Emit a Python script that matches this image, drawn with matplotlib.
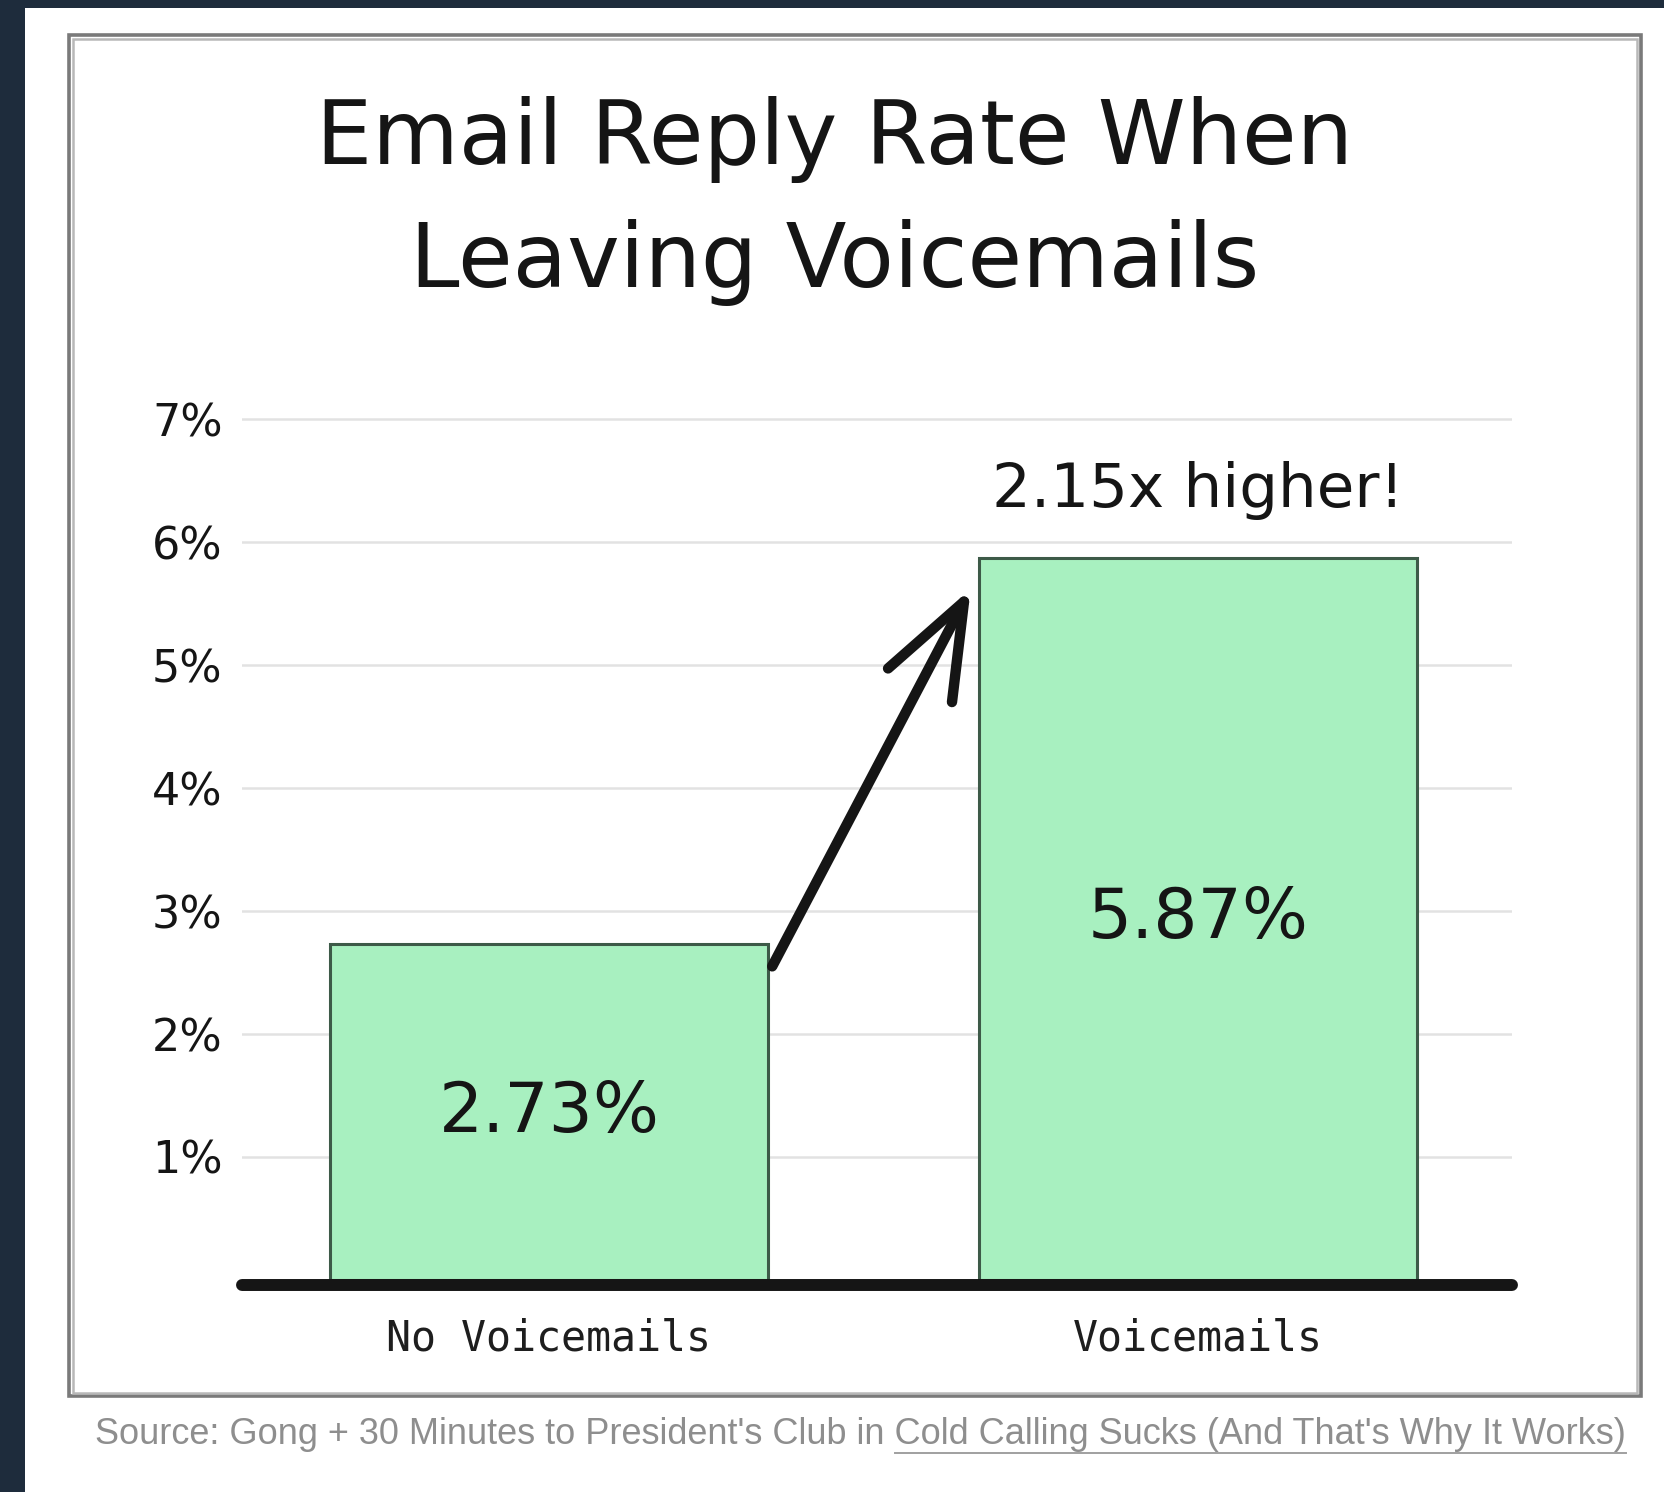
import matplotlib
matplotlib.use("Agg")
import matplotlib.pyplot as plt
from matplotlib.patches import Rectangle

# ---- data ------------------------------------------------------------------
categories = ["No Voicemails", "Voicemails"]
reply_rate = [2.73, 5.87]
bar_labels = ["2.73%", "5.87%"]
yticks = [1, 2, 3, 4, 5, 6, 7]
ytick_labels = ["1%", "2%", "3%", "4%", "5%", "6%", "7%"]
callout = "2.15x higher!"
title_lines = ["Email Reply Rate When", "Leaving Voicemails"]
source_plain = "Source: Gong + 30 Minutes to President's Club in "
source_link = "Cold Calling Sucks (And That's Why It Works)"

# ---- style -----------------------------------------------------------------
W, H, DPI = 1664, 1492, 100
NAVY = "#1e2c3c"
BAR = "#a8f0c0"; BAR_EDGE = "#3d5a48"
INK = "#151515"; GRID = "#e2e2e2"; SRC = "#8e8e8e"
HAND = "DejaVu Sans"
MONO = "DejaVu Sans Mono"

fig = plt.figure(figsize=(W / DPI, H / DPI), dpi=DPI)
fig.patch.set_facecolor("white")

# page overlay in pixel coords (y grows downward)
bg = fig.add_axes([0, 0, 1, 1])
bg.set_xlim(0, W); bg.set_ylim(H, 0); bg.axis("off")
bg.add_patch(Rectangle((0, 0), 25, H, color=NAVY, lw=0))
bg.add_patch(Rectangle((0, 0), W, 8, color=NAVY, lw=0))
# framed card: dark outer line + lighter inner shade
bg.add_patch(Rectangle((69, 35), 1571.5, 1361, fill=False, ec="#7a7a7a", lw=2.6))
bg.add_patch(Rectangle((72.5, 38.5), 1564.5, 1354, fill=False, ec="#b8b8b8", lw=1.8))

for txt, yb in zip(title_lines, [164, 287]):
    bg.text(835, yb, txt, ha="center", va="baseline", fontsize=64,
            family=HAND, color=INK)

# ---- chart axes ------------------------------------------------------------
PX_PER_PCT = 123.0
Y0 = 1280; YMAX = 7.3
X_LEFT, X_RIGHT = 242, 1512
ax = fig.add_axes([X_LEFT / W, 1 - Y0 / H, (X_RIGHT - X_LEFT) / W,
                   YMAX * PX_PER_PCT / H])
ax.patch.set_alpha(0)
ax.set_xlim(-0.473, 1.484)
ax.set_ylim(0, YMAX)
for s in ax.spines.values():
    s.set_visible(False)

xpos = list(range(len(categories)))
bw = 0.676
ax.bar(xpos, reply_rate, width=bw, color=BAR, edgecolor=BAR_EDGE, lw=2.2, zorder=3)

ax.set_yticks(yticks)
ax.set_yticklabels(ytick_labels, family=HAND, fontsize=32, color=INK)
ax.set_xticks(xpos)
ax.set_xticklabels(categories, family=MONO, fontsize=30, color="#1e1e1e")
ax.tick_params(axis="y", length=0, pad=14)
ax.tick_params(axis="x", length=0, pad=27)
ax.yaxis.grid(True, color=GRID, lw=1.8, zorder=0)
ax.set_axisbelow(True)

# thick hand-drawn baseline
ax.plot([0, 1], [-0.04, -0.04], transform=ax.get_yaxis_transform(),
        color=INK, lw=8.6, solid_capstyle="round", clip_on=False, zorder=4)

for x, v, lab in zip(xpos, reply_rate, bar_labels):
    ax.text(x, v / 2, lab, ha="center", va="center", fontsize=50,
            family=HAND, color=INK, zorder=5)

ax.text(xpos[1], reply_rate[1] + 0.55, callout, ha="center", va="center",
        fontsize=44, family=HAND, color=INK, zorder=5)

ax.annotate("", xy=(xpos[1] - bw / 2 - 0.012, reply_rate[1] - 0.25),
            xytext=(xpos[0] + bw / 2 + 0.006, reply_rate[0] - 0.18),
            arrowprops=dict(arrowstyle="->, head_length=0.68, head_width=0.26",
                            lw=7.5, color=INK, mutation_scale=100,
                            shrinkA=0, shrinkB=0, capstyle="round",
                            joinstyle="round"), zorder=6)

# ---- source line with underlined link ---------------------------------------
fig.canvas.draw()
r = fig.canvas.get_renderer()
SRC_L, SRC_R, SRC_Y = 95, 1622, 1435
t = bg.text(SRC_L, SRC_Y, source_plain + source_link, ha="left", va="center",
            fontsize=22, family="Liberation Sans", color=SRC)
full_w = t.get_window_extent(r).width
t.set_fontsize(22 * (SRC_R - SRC_L) / full_w)
full_w = t.get_window_extent(r).width
probe = bg.text(0, 0, source_link, fontsize=t.get_fontsize(),
                family="Liberation Sans")
link_w = probe.get_window_extent(r).width
probe.remove()
bg.plot([SRC_L + full_w - link_w, SRC_L + full_w], [1453, 1453],
        color="#a0a0a0", lw=1.4)

fig.savefig("out.png", dpi=DPI, facecolor="white")
